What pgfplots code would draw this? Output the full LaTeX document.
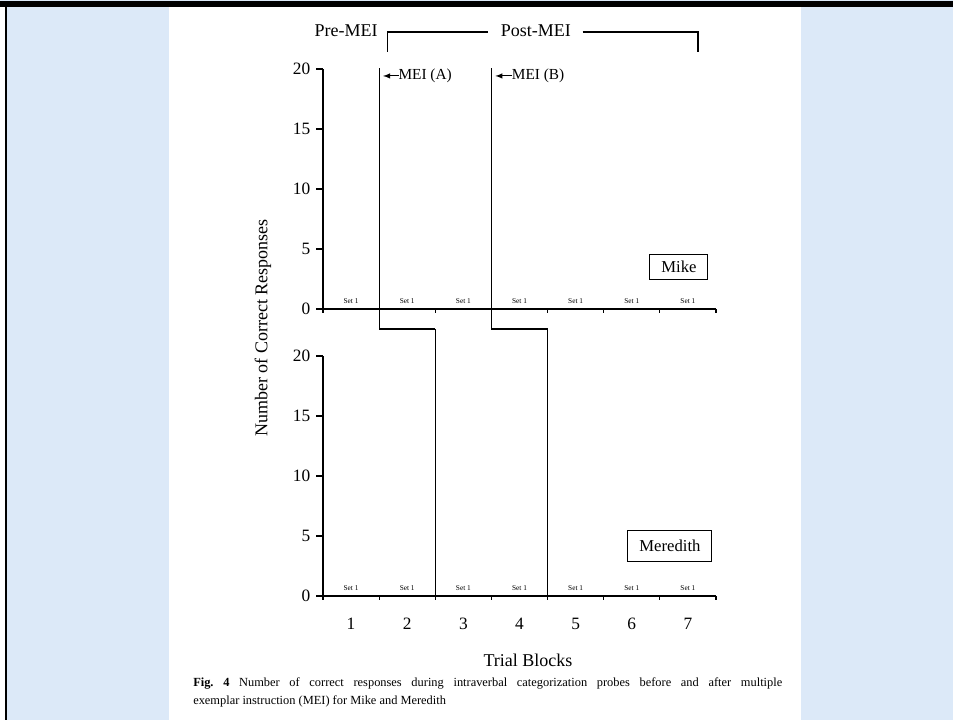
\documentclass[border=0pt]{standalone}
\usepackage{pgfplots}
\pgfplotsset{compat=1.18}
\usepackage{fontspec}
\setmainfont{Liberation Serif}
\definecolor{bgblue}{RGB}{220,233,248}
\begin{document}
\frenchspacing
\begin{tikzpicture}[x=0.75pt,y=0.75pt]
\useasboundingbox (0,0) rectangle (953,720);
\fill[bgblue] (0,0) rectangle (953,720);
\fill[white] (169,0) rectangle (801,713);
\fill[white] (0,0) rectangle (5,713);
\fill[black] (0,713) rectangle (953,719);
\fill[black] (5,0) rectangle (7,713);

\pgfplotsset{panel/.style={
  anchor=south west,
  width=294.75pt, height=180pt, scale only axis,
  xmin=0.5, xmax=7.5, ymin=0, ymax=20,
  axis x line*=bottom, axis y line*=left,
  axis line style={line width=0.85pt},
  xtick={1,...,7}, minor xtick={0.5,1.5,...,7.5},
  ytick={0,5,10,15,20},
  tick align=outside, xtick pos=bottom, ytick pos=left,
  major tick length=5pt, minor tick length=3pt,
  major x tick style={draw=none},
  tick style={black, line width=0.85pt},
  clip=false,
  /pgf/number format/assume math mode=true,
  yticklabel style={font=\fontsize{13}{15}\selectfont, xshift=-1pt},
  xticklabel style={font=\fontsize{13}{15}\selectfont, yshift=-8pt},
}}

% ---------- Mike (top) ----------
\begin{axis}[panel, at={(242.25pt,308.25pt)}, xticklabels={}]
\addplot[draw=none, nodes near coords={Set 1},
  nodes near coords style={font=\fontsize{5.5}{6}\selectfont, anchor=south, inner sep=0pt, yshift=3.5pt}]
  coordinates {(1,0) (2,0) (3,0) (4,0) (5,0) (6,0) (7,0)};
% phase-change lines
\addplot[black, line width=0.9pt] coordinates {(1.5,20.08) (1.5,-1.667) (2.5,-1.667)};
\addplot[black, line width=0.9pt] coordinates {(3.5,20.08) (3.5,-1.667) (4.5,-1.667)};
% bracket
\draw[line width=0.8pt] (axis cs:1.643,21.42) -- (axis cs:1.643,23.08) -- (axis cs:3.446,23.08);
\draw[line width=0.8pt] (axis cs:5.125,23.08) -- (axis cs:7.179,23.08) -- (axis cs:7.179,21.42);
\node[font=\fontsize{13.5}{15}\selectfont] at (axis cs:0.911,23.17) {Pre-MEI};
\node[font=\fontsize{13.5}{15}\selectfont] at (axis cs:4.29,23.17) {Post-MEI};
% MEI arrows
\draw[-latex, line width=0.8pt] (axis cs:1.85,19.42) -- (axis cs:1.57,19.42);
\node[anchor=west, inner sep=0pt, font=\fontsize{11.5}{13}\selectfont] at (axis cs:1.84,19.42) {MEI (A)};
\draw[-latex, line width=0.8pt] (axis cs:3.87,19.42) -- (axis cs:3.57,19.42);
\node[anchor=west, inner sep=0pt, font=\fontsize{11.5}{13}\selectfont] at (axis cs:3.86,19.42) {MEI (B)};
\node[draw, line width=0.7pt, minimum width=43.5pt, minimum height=19pt, inner sep=0pt,
  font=\fontsize{12.5}{14}\selectfont] at (axis cs:6.84,3.5) {Mike};
\end{axis}

% ---------- Meredith (bottom) ----------
\begin{axis}[panel, at={(242.25pt,93pt)}, xticklabels={1,2,3,4,5,6,7}]
\addplot[draw=none, nodes near coords={Set 1},
  nodes near coords style={font=\fontsize{5.5}{6}\selectfont, anchor=south, inner sep=0pt, yshift=3.5pt}]
  coordinates {(1,0) (2,0) (3,0) (4,0) (5,0) (6,0) (7,0)};
\addplot[black, line width=0.9pt] coordinates {(2.5,22.25) (2.5,0)};
\addplot[black, line width=0.9pt] coordinates {(4.5,22.25) (4.5,0)};
\node[draw, line width=0.7pt, minimum width=63pt, minimum height=23pt, inner sep=0pt,
  font=\fontsize{12.5}{14}\selectfont] at (axis cs:6.68,4.17) {Meredith};
\end{axis}

% axis titles
\node[rotate=90, font=\fontsize{13.5}{16}\selectfont] at (263,392) {Number of Correct Responses};
\node[font=\fontsize{13.5}{16}\selectfont] at (528,60) {Trial Blocks};
% caption
\node[anchor=base west, inner sep=0pt] at (193,33) {\parbox[t]{441.75pt}{\fontsize{9.3}{13.5}\selectfont
\textbf{Fig.~4} Number of correct responses during intraverbal categorization probes before and after multiple\linebreak
exemplar instruction (MEI) for Mike and Meredith}};
\end{tikzpicture}
\end{document}
